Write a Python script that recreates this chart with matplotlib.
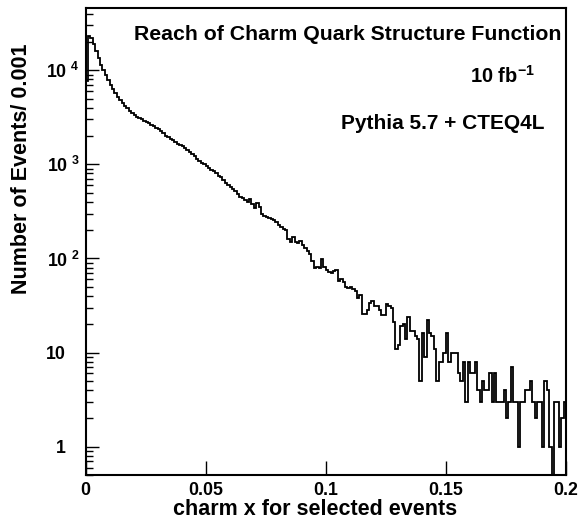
import numpy as np
import matplotlib
matplotlib.use('Agg')
import matplotlib.pyplot as plt
from matplotlib.ticker import LogLocator, NullFormatter
from matplotlib.transforms import ScaledTranslation

# events per 0.001 bin of charm x, 200 bins from 0 to 0.2
counts = [
    7600, 23000, 22000, 19000, 16000, 13500, 11500, 10000, 8800, 7800,
    7000, 6300, 5700, 5200, 4800, 4500, 4200, 3950, 3700, 3500,
    3350, 3200, 3100, 3000, 2900, 2820, 2750, 2650, 2550, 2450,
    2380, 2250, 2150, 2000, 1950, 1880, 1800, 1720, 1660, 1600,
    1550, 1480, 1430, 1360, 1300, 1230, 1150, 1080, 1040, 1000,
    950, 920, 870, 840, 800, 760, 730, 690, 640, 610,
    580, 545, 520, 480, 455, 440, 420, 400, 430, 380,
    340, 390, 350, 300, 280, 275, 270, 262, 255, 245,
    225, 215, 205, 200, 160, 150, 170, 150, 145, 155,
    140, 130, 120, 112, 95, 80, 82, 80, 98, 82,
    75, 72, 70, 74, 76, 58, 60, 56, 50, 49,
    50, 47, 45, 38, 41, 26, 26, 28, 34, 35,
    31, 31, 28, 25, 25, 33, 31, 30, 21, 11,
    12, 19, 20, 14, 24, 17, 17, 15, 14, 5,
    16, 9, 22, 16, 15, 11, 5, 8, 8, 10,
    16, 8, 10, 10, 10, 6, 5, 8, 3, 8,
    6, 6, 8, 4, 3, 5, 4, 4, 6, 3,
    6, 3, 3, 3, 4, 2, 3, 7, 3, 3,
    1, 3, 3, 4, 4, 5, 3, 2, 3, 3,
    1, 5, 4, 1, 0, 3, 3, 1, 2, 3,
]
edges = np.arange(len(counts) + 1) * 0.001

xticks = [0, 0.05, 0.1, 0.15, 0.2]
xticklabels = ['0', '0.05', '0.1', '0.15', '0.2']
yticks = [1, 10, 100, 1000, 10000]
yticklabels = ['1', '10', r'$10^{\ 2}$', r'$10^{\ 3}$', r'$10^{\ 4}$']

plt.rcParams['font.family'] = 'Liberation Sans'
plt.rcParams['font.weight'] = 'bold'
plt.rcParams['mathtext.fontset'] = 'custom'
plt.rcParams['mathtext.rm'] = 'Liberation Sans:bold'
plt.rcParams['mathtext.bf'] = 'Liberation Sans:bold'
plt.rcParams['mathtext.default'] = 'rm'

fig = plt.figure(figsize=(5.86, 5.24), dpi=100)
ax = fig.add_axes([0.146, 0.0935, 0.8199, 0.8915])

ax.stairs(counts, edges, color='black', lw=1.3, baseline=None)

ax.set_yscale('log')
ax.set_xlim(0, 0.2)
ax.set_ylim(0.5, 46000)

ax.set_xticks(xticks)
ax.set_xticklabels(xticklabels, fontsize=12.8, fontweight='bold')
ax.set_yticks(yticks)
ax.set_yticklabels(yticklabels, fontsize=12.8, fontweight='bold')
ax.yaxis.set_minor_locator(LogLocator(base=10, subs=np.arange(2, 10)))
ax.yaxis.set_minor_formatter(NullFormatter())

ax.tick_params(axis='x', which='major', direction='in', length=10, width=1, pad=5)
ax.tick_params(axis='y', which='major', direction='in', length=9, width=1, pad=14.5)
ax.tick_params(axis='y', which='minor', direction='in', length=5, width=1)
ax.tick_params(top=False, right=False)
for s in ax.spines.values():
    s.set_linewidth(1.5)

# ROOT style: the exponent hangs out to the right of the "10"
for t in ax.yaxis.get_major_ticks()[2:]:
    t.label1.set_transform(t.label1.get_transform()
                           + ScaledTranslation(0.14, 0, fig.dpi_scale_trans))

ax.set_xlabel('charm x for selected events', fontsize=15.5, fontweight='bold')
ax.xaxis.set_label_coords(0.478, -0.052)
ax.set_ylabel('Number of Events/ 0.001', fontsize=15.5, fontweight='bold')
ax.yaxis.set_label_coords(-0.112, 0.655)

ax.text(0.99, 0.944, 'Reach of Charm Quark Structure Function', transform=ax.transAxes,
        ha='right', va='center', fontsize=15.3, fontweight='bold')
ax.text(0.935, 0.855, r'10 fb$^{-1}$', transform=ax.transAxes,
        ha='right', va='center', fontsize=14.5, fontweight='bold')
ax.text(0.955, 0.752, 'Pythia 5.7 + CTEQ4L', transform=ax.transAxes,
        ha='right', va='center', fontsize=15, fontweight='bold')

fig.savefig('out.png', dpi=100)
